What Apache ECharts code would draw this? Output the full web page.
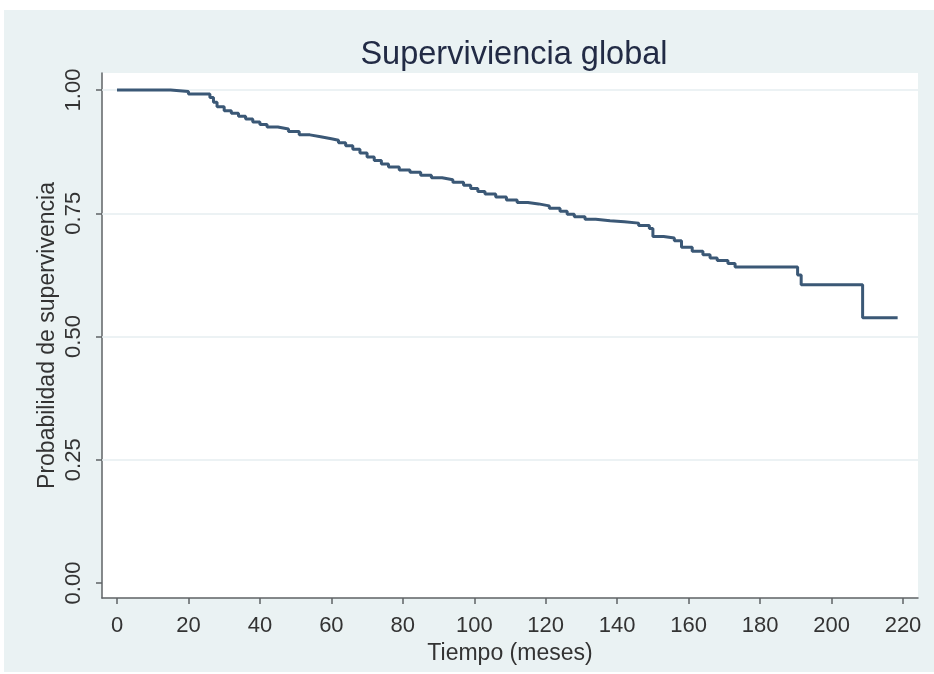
<!DOCTYPE html>
<html>
<head>
<meta charset="utf-8">
<script src="https://cdn.jsdelivr.net/npm/echarts@6/dist/echarts.min.js"></script>
<style>
html,body{margin:0;padding:0;background:#ffffff;width:934px;height:674px;overflow:hidden;}
#chart{position:absolute;left:4px;top:10px;width:930px;height:662px;}
</style>
</head>
<body>
<div id="chart"></div>
<script>
// Kaplan-Meier estimate: event times (months) and survival after each event
const times = [0, 15, 20, 26, 27, 28, 30, 32, 34, 36, 38, 40, 42, 45, 48, 51, 54, 57, 60, 62, 64, 66, 68, 70, 72, 74, 76, 79, 82, 85, 88, 91, 94, 97, 99, 101, 103, 106, 109, 112, 115, 118, 121, 124, 126, 128, 131, 134, 138, 142, 146, 149, 150, 153, 156, 158, 161, 164, 166, 168, 171, 173, 190.5, 191.5, 208.7, 218.5];
const survival = [1.000, 0.997, 0.992, 0.985, 0.975, 0.966, 0.958, 0.953, 0.947, 0.941, 0.935, 0.930, 0.925, 0.921, 0.916, 0.909, 0.905, 0.901, 0.898, 0.893, 0.887, 0.880, 0.872, 0.864, 0.857, 0.850, 0.844, 0.838, 0.833, 0.827, 0.822, 0.818, 0.813, 0.807, 0.800, 0.794, 0.789, 0.783, 0.777, 0.772, 0.769, 0.765, 0.760, 0.754, 0.748, 0.743, 0.738, 0.735, 0.733, 0.730, 0.725, 0.719, 0.703, 0.700, 0.694, 0.681, 0.673, 0.666, 0.659, 0.654, 0.648, 0.641, 0.625, 0.605, 0.538, 0.538];
const xTicks = [0, 20, 40, 60, 80, 100, 120, 140, 160, 180, 200, 220];
const yTicks = [0, 0.25, 0.5, 0.75, 1.0];
const yGrid = [0.25, 0.5, 0.75, 1.0];
const titleText = 'Superviviencia global';
const xName = 'Tiempo (meses)';
const yName = 'Probabilidad de supervivencia';

const chart = echarts.init(document.getElementById('chart'), null, {renderer: 'canvas'});
const font = '"Liberation Sans", Arial, Helvetica, sans-serif';
const axisCol = '#5f6366';
chart.setOption({
  backgroundColor: '#eaf2f3',
  animation: false,
  title: {
    text: titleText,
    left: 505, top: 24, textAlign: 'center',
    textStyle: {fontFamily: font, fontSize: 32.5, fontWeight: 'normal', color: '#222b45'}
  },
  grid: {left: 98, right: 16, top: 63, bottom: 74, show: true, backgroundColor: '#ffffff', borderWidth: 0},
  xAxis: {
    type: 'value', min: -4.2, max: 224.2,
    name: xName, nameLocation: 'middle', nameGap: 36,
    nameTextStyle: {fontFamily: font, fontSize: 23, color: '#333'},
    axisLine: {show: true, onZero: false, lineStyle: {color: axisCol, width: 1.5}},
    axisTick: {show: true, customValues: xTicks, length: 6, lineStyle: {color: axisCol, width: 1.5}},
    axisLabel: {customValues: xTicks, margin: 17, fontFamily: font, fontSize: 22, color: '#333'},
    splitLine: {show: false}
  },
  yAxis: {
    type: 'value', min: -0.0304, max: 1.0345,
    name: yName, nameLocation: 'middle', nameGap: 43, nameMoveOverlap: false,
    nameTextStyle: {fontFamily: font, fontSize: 23, color: '#333'},
    axisLine: {show: true, onZero: false, lineStyle: {color: axisCol, width: 1.5}},
    axisTick: {show: true, customValues: yTicks, length: 6, lineStyle: {color: axisCol, width: 1.5}},
    axisLabel: {customValues: yTicks, rotate: 90, margin: 17, fontFamily: font, fontSize: 22, color: '#333',
      formatter: v => v.toFixed(2)},
    splitLine: {show: false}
  },
  series: [{
    type: 'line',
    data: [],
    silent: true,
    z: 1,
    markLine: {
      silent: true, symbol: 'none', label: {show: false},
      lineStyle: {color: '#e6eef0', width: 1.5, type: 'solid'},
      data: yGrid.map(v => ({yAxis: v}))
    }
  }, {
    type: 'line',
    step: 'end',
    data: times.map((t, i) => [t, survival[i]]),
    showSymbol: false,
    lineStyle: {color: '#3b5876', width: 3},
    z: 5
  }]
});
</script>
</body>
</html>
